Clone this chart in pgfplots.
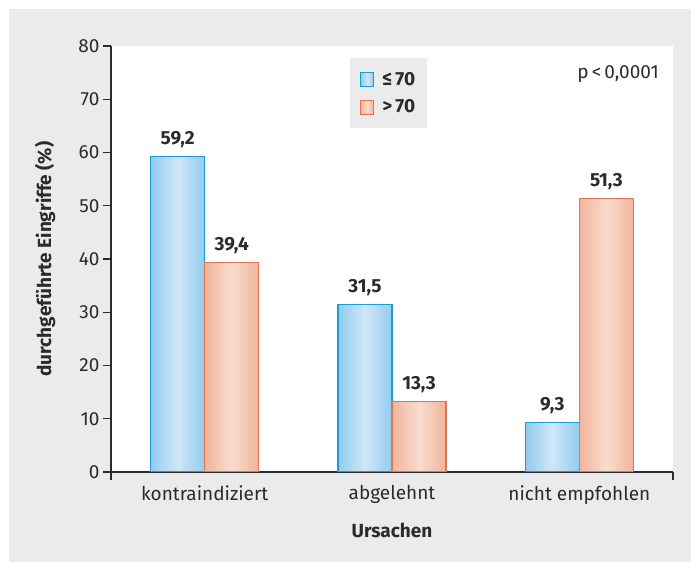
\documentclass[border=0pt]{standalone}
\usepackage{fontspec}
\setmainfont{Fira Sans}
\usepackage{pgfplots}
\pgfplotsset{compat=1.18}

\definecolor{panel}{HTML}{EBEBED}
\definecolor{ink}{HTML}{2B2B2B}
\definecolor{blueE}{HTML}{1E9BD7}
\definecolor{blueD}{HTML}{92CBEE}
\definecolor{blueL}{HTML}{D0E7F7}
\definecolor{oraE}{HTML}{E2754F}
\definecolor{oraD}{HTML}{F0B49B}
\definecolor{oraL}{HTML}{F8DDCF}

\pgfplotsset{
    bluebar/.style={ybar, bar width=54pt, bar shift=-27pt, draw=blueE, line width=1.1pt,
        left color=blueD, right color=blueD, middle color=blueL,
        every node near coord/.append style={xshift=-27pt}},
    orabar/.style={ybar, bar width=54pt, bar shift=27pt, draw=oraE, line width=1.1pt,
        left color=oraD, right color=oraD, middle color=oraL,
        every node near coord/.append style={xshift=27pt}},
}

\begin{document}
\begin{tikzpicture}[x=1pt, y=1pt, font=\fontsize{19}{22}\selectfont, text=ink]
\useasboundingbox (0,0) rectangle (691,562);
\fill[panel] (9,0) rectangle (691,553);
\begin{axis}[
    at={(111pt,90pt)}, anchor=south west,
    scale only axis, width=562pt, height=426pt,
    axis background/.style={fill=white},
    xmin=-0.5, xmax=2.5, ymin=0, ymax=80,
    enlargelimits=false,
    axis x line=bottom, axis y line=left,
    axis line style={-, draw=ink, line width=1.1pt},
    tick align=outside, major tick length=8pt,
    tick style={draw=ink, line width=1.1pt},
    ytick={0,10,...,80},
    xtick={-0.5,2.5}, xticklabels={},
    extra x ticks={0,1,2},
    extra x tick labels={kontraindiziert, abgelehnt, nicht empfohlen},
    extra x tick style={major tick length=0pt, tick style={draw=none}},
    xticklabel style={yshift=-10pt},
    /pgf/number format/assume math mode=true,
    ticklabel style={text=ink},
    xlabel={\bfseries Ursachen},
    ylabel={\bfseries durchgeführte Eingriffe (\%)},
    xlabel style={at={(axis description cs:0.5,-0.1526)}, anchor=base},
    ylabel style={at={(axis description cs:-0.1174,0.5)}, anchor=center},
    nodes near coords={\pgfmathprintnumber[fixed,fixed zerofill,precision=1,use comma]{\pgfplotspointmeta}},
    nodes near coords style={anchor=base, yshift=12pt, inner sep=0pt, font=\fontsize{19}{22}\selectfont\bfseries, text=ink},
    legend style={at={(rel axis cs:0.4253,0.9718)}, anchor=north west,
        draw=none, fill=panel, font=\fontsize{19}{22}\selectfont\bfseries,
        text=ink, inner xsep=10pt, inner ysep=12pt, row sep=9pt,
        /tikz/every odd column/.append style={column sep=6pt}},
    legend cell align=left,
    legend image code/.code={\draw[#1, line width=1.1pt] (0pt,-7pt) rectangle (13pt,7pt);},
]
\addplot[bluebar] coordinates {(0,59.2)};
\addlegendentry{≤\,70}
\addplot[orabar] coordinates {(0,39.4)};
\addlegendentry{>\,70}
\addplot[bluebar, forget plot] coordinates {(1,31.5)};
\addplot[orabar, forget plot] coordinates {(1,13.3)};
\addplot[bluebar, forget plot] coordinates {(2,9.3)};
\addplot[orabar, forget plot] coordinates {(2,51.3)};
\node[anchor=east, text=ink, inner sep=0pt] at (rel axis cs:0.975,0.935) {p\,<\,0,0001};
\end{axis}
\end{tikzpicture}
\end{document}
